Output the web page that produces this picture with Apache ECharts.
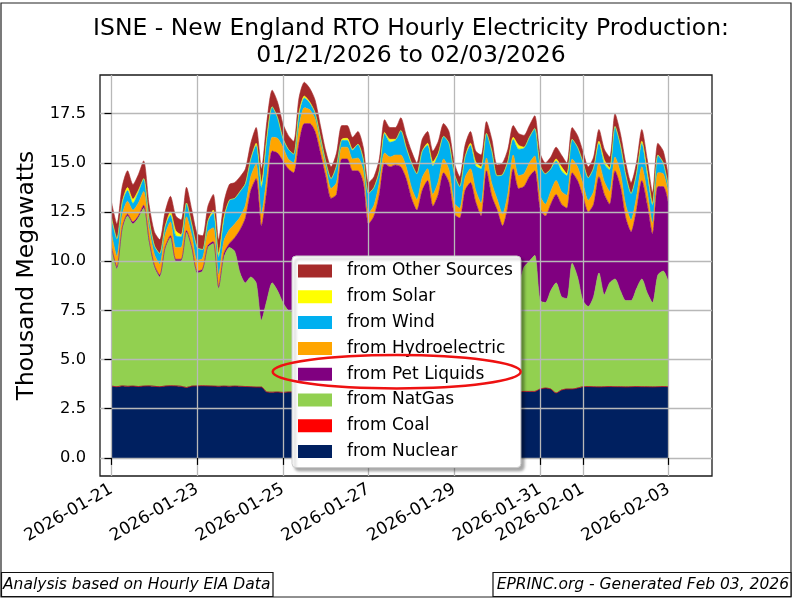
<!DOCTYPE html>
<html>
<head>
<meta charset="utf-8">
<script src="https://cdn.jsdelivr.net/npm/echarts@6/dist/echarts.min.js"></script>
<style>
html,body{margin:0;padding:0;background:#fff;}
#chart{width:800px;height:606px;}
</style>
</head>
<body>
<div id="chart"></div>
<script>
// Sampling every 3 hours from 2026-01-21 00:00 (thousand MW)
const nuclear = [
3.65,3.62,3.66,3.64,3.65,3.63,3.65,3.66,
3.64,3.62,3.65,3.67,3.66,3.64,3.58,3.65,
3.66,3.67,3.66,3.65,3.64,3.65,3.64,3.65,
3.64,3.63,3.62,3.6,3.6,3.35,3.34,3.35,
3.33,3.35,3.35,3.36,3.35,3.34,3.35,3.35,
3.36,3.35,3.35,3.35,3.34,3.35,3.35,3.36,
3.35,3.35,3.34,3.35,3.35,3.36,3.35,3.35,
3.34,3.35,3.35,3.36,3.35,3.35,3.34,3.35,
3.35,3.36,3.35,3.35,3.34,3.35,3.35,3.36,
3.35,3.35,3.34,3.35,3.36,3.38,3.38,3.38,
3.5,3.55,3.5,3.3,3.45,3.5,3.5,3.55,
3.62,3.63,3.62,3.61,3.62,3.63,3.62,3.62,
3.61,3.62,3.63,3.62,3.62,3.61,3.62,3.63,
3.62];
const coal = [
0,0,0,0,0,0,0,0, 0,0,0,0,0,0,0,0, 0,0,0,0,0,0,0,0,
0,0,0,0,0,0,0,0, 0,0,0,0,0,0,0,0, 0,0,0,0,0,0,0,0,
0,0,0,0,0,0,0,0, 0,0,0,0,0,0,0,0, 0,0,0,0,0,0,0,0,
0,0,0,0,0,0,0,0, 0,0,0,0,0,0,0,0, 0,0,0,0,0,0,0,0,
0,0,0,0,0,0,0,0, 0];
const natGas = [
6.95,5.98,7.94,8.66,8.25,8.57,9.05,7.34,
6.06,5.58,6.95,7.53,6.34,6.36,7.88,6.95,
5.74,5.83,7.04,7.25,4.96,6.55,7.06,6.85,
5.76,5.27,5.58,5.3,3.4,4.65,5.56,5.15,
4.57,4.15,4.05,4.84,5.45,5.26,4.95,4.65,
4.24,4.05,4.25,5.05,5.36,5.15,5.25,4.84,
4.25,4.15,4.46,5.25,5.05,5.14,5.45,5.05,
4.66,4.35,4.95,5.24,4.85,5.05,5.46,5.15,
4.55,4.34,4.95,5.25,4.86,4.75,5.55,5.14,
4.65,4.55,4.96,5.65,5.54,6.32,6.62,6.92,
4.5,4.35,5.0,5.6,4.75,4.6,6.4,5.65,
4.38,4.07,4.58,5.79,4.68,5.27,5.48,4.88,
4.39,4.38,4.97,5.48,4.78,4.29,5.68,5.87,
5.28];
const petLiquids = [
0.1,0.1,0.1,0.1,0.1,0.1,0.15,0.1,
0.1,0.1,0.1,0.1,0.1,0.1,0.1,0.1,
0.1,0.1,0.1,0.1,0.1,0.2,0.2,0.7,
2.2,3.3,4.4,5.3,4.8,5.6,6.7,7.0,
7.2,7.2,7.1,7.8,8.2,8.4,8.3,7.5,
6.7,5.8,5.8,6.8,6.5,6.1,6.0,5.8,
4.3,4.8,5.6,6.4,6.4,6.4,6.0,5.8,
5.2,4.9,5.3,5.5,4.6,5.0,5.7,5.5,
4.5,4.5,5.3,5.4,4.8,4.2,5.7,4.8,
4.6,3.9,4.5,5.7,4.8,4.1,4.3,4.3,
4.7,4.4,4.4,4.5,4.7,4.6,4.6,4.9,
5.3,4.8,4.7,4.9,5.1,4.0,5.5,5.3,
4.2,3.5,4.0,5.0,4.5,3.5,4.5,4.3,
4.0];
const hydro = [
0.7,0.55,0.65,0.65,0.6,0.65,0.7,0.6,
0.55,0.55,0.65,0.7,0.6,0.6,0.7,0.6,
0.55,0.55,0.7,0.7,0.6,0.65,0.7,0.7,
0.65,0.65,0.7,0.75,0.6,0.7,0.7,0.75,
0.7,0.5,0.5,0.8,0.8,0.7,0.65,0.5,
0.45,0.5,0.6,0.6,0.6,0.6,0.65,0.6,
0.55,0.55,0.6,0.5,0.5,0.5,0.6,0.6,
0.55,0.55,0.65,0.6,0.6,0.65,0.7,0.65,
0.55,0.5,0.65,0.7,0.6,0.65,0.65,0.65,
0.55,0.6,0.65,0.7,0.65,0.65,0.7,0.75,
0.65,0.6,0.65,0.7,0.65,0.65,0.7,0.7,
0.65,0.6,0.65,0.7,0.65,0.65,0.7,0.7,
0.65,0.6,0.65,0.7,0.65,0.55,0.7,0.65,
0.55];
const wind = [
0.8,0.9,0.65,0.55,0.35,0.55,0.65,0.45,
0.45,0.55,0.4,0.35,0.6,0.55,0.7,0.55,
0.65,0.45,0.55,0.75,0.9,1.1,1.5,1.3,
1.3,1.1,0.9,0.95,1.35,1.9,1.55,1.05,
0.45,0.5,0.45,0.65,0.5,0.35,0.3,0.3,
0.3,0.5,0.85,0.35,0.35,0.45,0.7,0.6,
1.0,0.9,0.6,1.0,0.75,0.75,1.25,1.0,
1.25,1.3,1.35,1.2,1.45,1.4,1.15,1.35,
1.5,1.1,1.05,1.2,1.25,1.75,1.25,1.65,
1.2,2.0,1.65,0.8,1.35,1.3,1.3,1.4,
1.55,1.55,1.15,1.0,1.05,1.0,1.0,1.0,
1.1,1.15,1.2,1.0,0.9,1.1,1.55,1.4,
1.55,1.35,1.2,1.2,0.85,0.9,0.9,0.55,
0.3];
const solar = [
0,0,0,0.15,0.2,0.1,0,0,
0,0,0,0.15,0.25,0.1,0,0,
0,0,0,0.15,0.2,0.1,0,0,
0,0,0,0.1,0.25,0.1,0,0,
0,0,0,0.1,0.1,0.05,0,0,
0,0,0,0.05,0.1,0.05,0,0,
0,0,0,0.05,0.15,0.05,0,0,
0,0,0,0.1,0.2,0.05,0,0,
0,0,0,0.1,0.2,0.1,0,0,
0,0,0,0.1,0.2,0.05,0,0,
0,0,0,0.1,0.2,0.1,0,0,
0,0,0,0.1,0.2,0.1,0,0,
0,0,0,0.1,0.2,0.1,0,0,
0];
const other = [
0.8,0.75,0.8,0.85,0.75,0.8,0.9,0.75,
0.7,0.7,0.75,0.8,0.75,0.75,0.8,0.75,
0.7,0.7,0.75,0.8,0.7,0.75,0.8,0.8,
0.75,0.75,0.8,0.8,0.7,0.8,0.85,0.8,
0.75,0.7,0.65,0.75,0.7,0.7,0.65,0.6,
0.55,0.6,0.65,0.7,0.65,0.6,0.65,0.6,
0.55,0.55,0.6,0.65,0.6,0.6,0.65,0.6,
0.6,0.55,0.6,0.6,0.55,0.6,0.65,0.6,
0.55,0.5,0.6,0.6,0.55,0.6,0.6,0.6,
0.55,0.6,0.6,0.6,0.6,0.6,0.6,0.65,
0.6,0.55,0.6,0.6,0.6,0.55,0.6,0.6,
0.55,0.55,0.55,0.6,0.55,0.55,0.65,0.6,
0.6,0.55,0.55,0.6,0.6,0.55,0.6,0.6,
0.55];

const xTickHours = [0,48,96,144,192,240,264,312];
const xTickLabels = ['2026-01-21','2026-01-23','2026-01-25','2026-01-27','2026-01-29','2026-01-31','2026-02-01','2026-02-03'];
const yTicks = [0,2.5,5,7.5,10,12.5,15,17.5];
const yTickLabels = ['0.0','2.5','5.0','7.5','10.0','12.5','15.0','17.5'];

const seriesDefs = [
  {name:'from Nuclear', data:nuclear, color:'#002060'},
  {name:'from Coal', data:coal, color:'#ff0000'},
  {name:'from NatGas', data:natGas, color:'#92d050'},
  {name:'from Pet Liquids', data:petLiquids, color:'#800080'},
  {name:'from Hydroelectric', data:hydro, color:'#ffa500'},
  {name:'from Wind', data:wind, color:'#00b0f0'},
  {name:'from Solar', data:solar, color:'#ffff00'},
  {name:'from Other Sources', data:other, color:'#a52a2a'}
];
const hours = nuclear.map((_, i) => i * 3);
const FONT = 'DejaVu Sans';

const chart = echarts.init(document.getElementById('chart'), null, {renderer:'canvas'});
chart.setOption({
  animation:false,
  backgroundColor:'#fff',
  textStyle:{fontFamily:FONT},
  title:{
    text:'ISNE - New England RTO Hourly Electricity Production:\n01/21/2026 to 02/03/2026',
    left:406, top:10, textAlign:'center',
    textStyle:{fontFamily:FONT, fontSize:23.5, fontWeight:'normal', color:'#000', lineHeight:27}
  },
  grid:{left:100, right:88, top:75, bottom:130, show:true, borderColor:'#1a1a1a', borderWidth:1.3, backgroundColor:'rgba(0,0,0,0)'},
  legend:{
    data:['from Other Sources','from Solar','from Wind','from Hydroelectric','from Pet Liquids','from NatGas','from Coal','from Nuclear'],
    orient:'vertical', left:292, top:256,
    icon:'rect', itemWidth:34, itemHeight:13, itemGap:5.8,
    padding:[5,8,6,6],
    backgroundColor:'#fff', borderColor:'#cccccc', borderWidth:1, borderRadius:4,
    shadowColor:'rgba(0,0,0,0.35)', shadowBlur:3, shadowOffsetX:3, shadowOffsetY:3,
    textStyle:{fontFamily:FONT, fontSize:17, color:'#000', lineHeight:20, padding:[0,0,0,10]},
    selectedMode:false
  },
  xAxis:{
    type:'value', min:-6.44, max:336.3, z:3,
    axisLine:{show:false},
    axisTick:{show:true, length:7, lineStyle:{color:'#000', width:1.2}, customValues:xTickHours},
    axisLabel:{customValues:xTickHours, rotate:30, margin:12, fontFamily:FONT, fontSize:17, color:'#000',
      formatter:(v)=>{const k=xTickHours.indexOf(v); return k>=0?xTickLabels[k]:'';}},
    splitLine:{show:true, lineStyle:{color:'#b8b8b8', width:1.3}}
  },
  yAxis:{
    type:'value', min:-0.92, max:19.47, z:3,
    name:'Thousand Megawatts', nameLocation:'middle', nameRotate:90, nameGap:60,
    nameTextStyle:{fontFamily:FONT, fontSize:23.4, color:'#000'},
    axisLine:{show:false},
    axisTick:{show:true, length:7, lineStyle:{color:'#000', width:1.2}, customValues:yTicks},
    axisLabel:{customValues:yTicks, margin:14, fontFamily:FONT, fontSize:16.3, color:'#000',
      formatter:(v)=>{const k=yTicks.indexOf(v); return k>=0?yTickLabels[k]:'';}},
    splitLine:{show:true, lineStyle:{color:'#b8b8b8', width:1.3}}
  },
  series: seriesDefs.map(s=>({
    name:s.name, type:'line', stack:'total', z:2,
    data:s.data.map((v,i)=>[v, hours[i]]),
    encode:{x:1, y:0},
    symbol:'none', smooth:0.25,
    color:s.color,
    lineStyle:{width:0.6, color:s.color},
    areaStyle:{color:s.color, opacity:1},
    emphasis:{disabled:true}
  })),
  graphic:[
    {type:'rect', z:100, silent:true, shape:{x:1, y:3, width:790, height:594}, style:{fill:'none', stroke:'#222', lineWidth:1.2}},
    {type:'rect', z:100, silent:true, shape:{x:1.5, y:572.5, width:271.5, height:24}, style:{fill:'#fff', stroke:'#111', lineWidth:1.2}},
    {type:'rect', z:100, silent:true, shape:{x:493, y:572.5, width:298, height:24}, style:{fill:'#fff', stroke:'#111', lineWidth:1.2}},
    {type:'text', z:101, silent:true, x:3, y:585, style:{text:'Analysis based on Hourly EIA Data', font:'italic 15.5px "DejaVu Sans"', fill:'#000', verticalAlign:'middle'}},
    {type:'text', z:101, silent:true, x:789, y:585, style:{text:'EPRINC.org - Generated Feb 03, 2026', font:'italic 15.5px "DejaVu Sans"', fill:'#000', align:'right', verticalAlign:'middle'}},
    {type:'ellipse', z:110, silent:true, shape:{cx:396.7, cy:371.7, rx:124, ry:16.7}, style:{fill:'none', stroke:'#ee1111', lineWidth:2.5}}
  ]
});
</script>
</body>
</html>
